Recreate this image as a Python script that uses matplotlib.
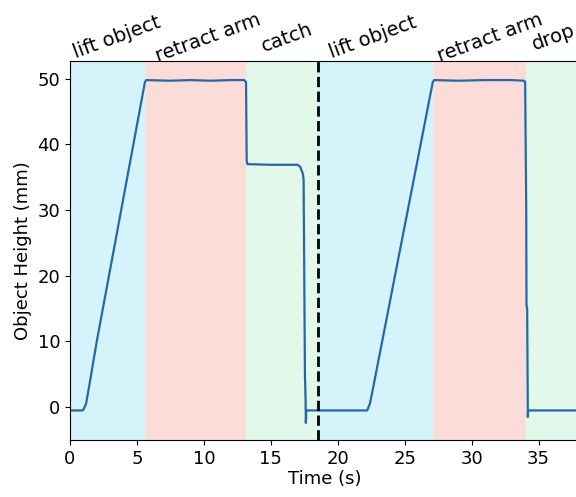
import matplotlib
matplotlib.use("Agg")
import matplotlib.pyplot as plt
import matplotlib.transforms as mtransforms

# measured object height over time (s, mm)
time = [0.0, 0.9, 1.0, 1.2, 1.4, 2.0, 5.6, 5.7, 7.5, 9.0, 10.5, 12.0, 13.0, 13.15,
        13.2, 13.25, 15.0, 17.0, 17.2, 17.4, 17.45, 17.5, 17.55, 17.6, 17.62, 17.65,
        17.7, 20.0, 22.2, 22.4, 22.6, 27.1, 27.2, 29.0, 31.0, 33.0, 33.9, 34.0,
        34.08, 34.1, 34.15, 34.2, 34.22, 34.25, 38.0]
height = [-0.5, -0.5, -0.4, 0.5, 2.8, 10.0, 49.5, 49.8, 49.7, 49.8, 49.7, 49.8, 49.8, 49.5,
          37.5, 37.0, 36.9, 36.9, 36.6, 35.5, 34.6, 20.0, 5.0, 1.0, -2.4, -0.6,
          -0.5, -0.5, -0.5, 0.5, 2.5, 49.5, 49.8, 49.7, 49.8, 49.8, 49.7, 49.5,
          30.0, 15.5, 15.0, -1.5, -0.5, -0.5, -0.5]

# phase boundaries (s), names and colours
phase_edges = [0.0, 5.67, 13.18, 18.5, 27.2, 34.07, 38.0]
phase_names = ["lift object", "retract arm", "catch", "lift object", "retract arm", "drop"]
phase_colors = ["#d5f3fa", "#fcdcd8", "#e2f8ea", "#d5f3fa", "#fcdcd8", "#e2f8ea"]
trial_split = 18.5

# where the phase names sit above the axes (layout only)
label_x = [3.5, 10.3, 16.2, 22.6, 31.4, 36.1]

fig = plt.figure(figsize=(5.76, 4.97), dpi=100)
ax = fig.add_axes([0.1215, 0.1147, 0.8832, 0.7625])

for i, name in enumerate(phase_names):
    ax.axvspan(phase_edges[i], phase_edges[i + 1], color=phase_colors[i], lw=0, zorder=0)

ax.plot(time, height, color="#2568a8", lw=1.6, zorder=2)
ax.axvline(trial_split, color="black", ls="--", lw=2, zorder=3)

ax.set_xlim(0, 38)
ax.set_ylim(-5.0, 52.7)
ax.set_xticks(range(0, 36, 5))
ax.set_yticks(range(0, 51, 10))
ax.tick_params(labelsize=13)
ax.set_xlabel("Time (s)", fontsize=13, labelpad=2)
ax.set_ylabel("Object Height (mm)", fontsize=13)

trans = mtransforms.blended_transform_factory(ax.transData, ax.transAxes)
for xc, name in zip(label_x, phase_names):
    ax.text(xc, 1.062, name, transform=trans, rotation=20, ha="center", va="center",
            fontsize=14, clip_on=False)

fig.savefig("out.png", dpi=100)
